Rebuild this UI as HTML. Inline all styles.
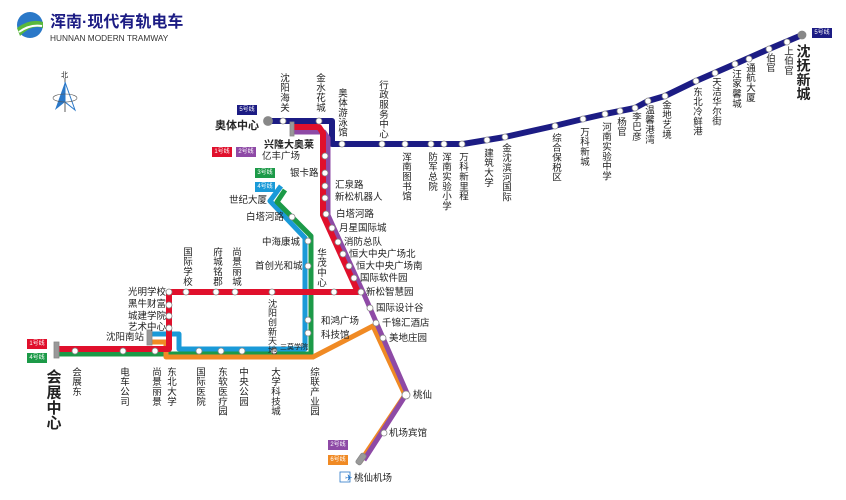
<!DOCTYPE html>
<html><head><meta charset="utf-8"><style>
body{margin:0;background:#fff;}
#c{position:relative;width:846px;height:500px;overflow:hidden;font-family:"Liberation Sans","Noto Sans CJK SC",sans-serif;color:#222;}
svg{position:absolute;left:0;top:0}
.v{position:absolute;writing-mode:vertical-rl;font-size:9.5px;line-height:10px;letter-spacing:0.3px;transform:translateX(-50%);white-space:nowrap}
.h{position:absolute;font-size:9.5px;line-height:11px;white-space:nowrap}
.b{position:absolute;font-size:6px;color:#fff;line-height:10px;height:10px;width:20px;text-align:center}
</style></head><body><div id="c">
<svg width="846" height="500">
<circle cx="30" cy="25" r="13" fill="#2a78c8"/>
<path d="M17,28 Q30,18 43,22 L43,28 Q32,24 20,36 Z" fill="#5ab83c"/>
<path d="M19,32 Q30,24 42,26" stroke="#fff" stroke-width="2" fill="none"/>
<line x1="65" y1="78" x2="65" y2="112" stroke="#333" stroke-width="0.8"/>
<polygon points="65,82 55,110 65,102" fill="#2a78c8"/><polygon points="65,82 75,110 65,102" fill="#fff" stroke="#2a78c8"/>
<ellipse cx="65" cy="98" rx="12" ry="4" fill="none" stroke="#555" stroke-width="0.6"/>
<g fill="none" stroke-linejoin="round">
<path d="M268,121 H332 V144 H463 L487,140 L505,137 L554,126 L583,119 L605,114 L635,108 L648,101 L665,96 L696,81 L735,64 L769,49 L802,35" stroke="#1c1c84" stroke-width="6"/>
<path d="M150,334 H179 V349 H305 V238 L270,201 L281,186" stroke="#1a9ad8" stroke-width="5"/>
<path d="M57,354 H311 V236 L277,202 L285,190" stroke="#1c9a48" stroke-width="5"/>
<path d="M150,342 H166 V357 H313 L373,326 L405,395 L360,462" stroke="#f08a24" stroke-width="5"/>
<path d="M293,132 H324 L328,138 V215 L363,292 L407,393 L364,460" stroke="#8e4aa6" stroke-width="5"/>
<path d="M293,127 H319 L323,133 V215 L357,290 L358,292 H169 V349 H57" stroke="#e0102c" stroke-width="6"/>
</g>
<g fill="#fff" stroke="#888" stroke-width="0.8">
<circle cx="268" cy="121" r="4.5" fill="#888"/><circle cx="802" cy="35" r="4" fill="#888"/>
<rect x="290" y="122" width="4" height="14" fill="#999"/><rect x="54" y="342" width="5" height="16" fill="#999"/>
<rect x="147" y="330" width="5" height="15" fill="#999"/>
<circle cx="283" cy="121" r="3"/><circle cx="319" cy="121" r="3"/><circle cx="342" cy="144" r="3"/><circle cx="382" cy="144" r="3"/><circle cx="405" cy="144" r="3"/><circle cx="431" cy="144" r="3"/><circle cx="444" cy="144" r="3"/><circle cx="462" cy="144" r="3"/><circle cx="487" cy="140" r="3"/><circle cx="505" cy="137" r="3"/><circle cx="555" cy="126" r="3"/><circle cx="583" cy="119" r="3"/><circle cx="605" cy="114" r="3"/><circle cx="620" cy="111" r="3"/><circle cx="635" cy="108" r="3"/><circle cx="648" cy="101" r="3"/><circle cx="665" cy="96" r="3"/><circle cx="696" cy="81" r="3"/><circle cx="715" cy="73" r="3"/><circle cx="735" cy="64" r="3"/><circle cx="749" cy="59" r="3"/><circle cx="769" cy="49" r="3"/><circle cx="787" cy="42" r="3"/>
<circle cx="169" cy="292" r="3"/><circle cx="186" cy="292" r="3"/><circle cx="216" cy="292" r="3"/><circle cx="235" cy="292" r="3"/><circle cx="272" cy="292" r="3"/><circle cx="334" cy="292" r="3"/><circle cx="169" cy="305" r="3"/><circle cx="169" cy="316" r="3"/><circle cx="169" cy="328" r="3"/>
<circle cx="75" cy="351" r="3"/><circle cx="123" cy="351" r="3"/><circle cx="155" cy="351" r="3"/><circle cx="199" cy="351" r="3"/><circle cx="221" cy="351" r="3"/><circle cx="242" cy="351" r="3"/><circle cx="274" cy="351" r="3"/>
<circle cx="308" cy="241" r="3"/><circle cx="308" cy="266" r="3"/><circle cx="308" cy="320" r="3"/><circle cx="308" cy="333" r="3"/><circle cx="292" cy="217" r="3"/>
<circle cx="325" cy="156" r="3"/><circle cx="325" cy="173" r="3"/><circle cx="325" cy="186" r="3"/><circle cx="325" cy="198" r="3"/><circle cx="326" cy="214" r="3"/><circle cx="332" cy="228" r="3"/><circle cx="338" cy="242" r="3"/><circle cx="343" cy="254" r="3"/><circle cx="349" cy="266" r="3"/><circle cx="354" cy="278" r="3"/><circle cx="361" cy="292" r="3"/><circle cx="370" cy="308" r="3"/><circle cx="376" cy="323" r="3"/><circle cx="383" cy="338" r="3"/><circle cx="406" cy="395" r="4"/><circle cx="384" cy="433" r="3"/>
<rect x="355" y="456" width="12" height="6" rx="2" fill="#999" transform="rotate(-55 361 459)"/>
<rect x="340" y="472" width="10" height="10" fill="#fff" stroke="#2a78c8"/>
</g>
<text x="345" y="481" font-size="9" fill="#2a78c8" font-family="DejaVu Sans">✈</text>
</svg>
<div class="h" style="left:50px;top:13px;font-size:16px;line-height:20px;font-weight:bold;color:#1c1c84">浑南·现代有轨电车</div>
<div class="h" style="left:50px;top:33px;font-size:8.3px;color:#333">HUNNAN MODERN TRAMWAY</div>
<div class="h" style="left:61px;top:70px;font-size:7px">北</div>
<div class="b" style="left:237px;top:105px;background:#1c1c84">5号线</div>
<div class="b" style="left:812px;top:28px;background:#1c1c84">5号线</div>
<div class="b" style="left:212px;top:147px;background:#e0102c">1号线</div>
<div class="b" style="left:236px;top:147px;background:#8e4aa6">2号线</div>
<div class="b" style="left:255px;top:168px;background:#1c9a48">3号线</div>
<div class="b" style="left:255px;top:182px;background:#1a9ad8">4号线</div>
<div class="b" style="left:27px;top:339px;background:#e0102c">1号线</div>
<div class="b" style="left:27px;top:353px;background:#1c9a48">4号线</div>
<div class="b" style="left:328px;top:440px;background:#8e4aa6">2号线</div>
<div class="b" style="left:328px;top:455px;background:#f08a24">6号线</div>
<div class="h" style="left:215px;top:121px;font-size:11px;font-weight:bold">奥体中心</div>
<div class="h" style="left:264px;top:140px;font-size:10px;font-weight:bold">兴隆大奥莱</div>
<div class="v" style="left:283px;top:73px">沈阳海关</div>
<div class="v" style="left:319px;top:73px">金水花城</div>
<div class="v" style="left:341px;top:88px">奥体游泳馆</div>
<div class="v" style="left:382px;top:80px">行政服务中心</div>
<div class="v" style="left:405px;top:152px">浑南图书馆</div>
<div class="v" style="left:431px;top:152px">防军总院</div>
<div class="v" style="left:445px;top:152px">浑南实验小学</div>
<div class="v" style="left:462px;top:152px">万科新里程</div>
<div class="v" style="left:487px;top:148px">建筑大学</div>
<div class="v" style="left:505px;top:143px">金沈滨河国际</div>
<div class="v" style="left:555px;top:133px">综合保税区</div>
<div class="v" style="left:583px;top:127px">万科新城</div>
<div class="v" style="left:605px;top:122px">河南实验中学</div>
<div class="v" style="left:620px;top:117px">杨官</div>
<div class="v" style="left:635px;top:112px">李巴彦</div>
<div class="v" style="left:648px;top:105px">温馨港湾</div>
<div class="v" style="left:665px;top:100px">金地艺境</div>
<div class="v" style="left:696px;top:87px">东北冷鲜港</div>
<div class="v" style="left:715px;top:77px">天洁华尔街</div>
<div class="v" style="left:735px;top:69px">汪家馨城</div>
<div class="v" style="left:749px;top:63px">通航大厦</div>
<div class="v" style="left:769px;top:53px">伯官</div>
<div class="v" style="left:787px;top:46px">上伯官</div>
<div class="v" style="left:803px;top:44px;font-size:14px;line-height:15px;font-weight:bold">沈抚新城</div>
<div class="h" style="left:262px;top:151px">亿丰广场</div>
<div class="h" style="left:290px;top:168px">银卡路</div>
<div class="h" style="left:335px;top:180px">汇泉路</div>
<div class="h" style="left:335px;top:192px">新松机器人</div>
<div class="h" style="left:336px;top:209px">白塔河路</div>
<div class="h" style="left:339px;top:223px">月星国际城</div>
<div class="h" style="left:344px;top:237px">消防总队</div>
<div class="h" style="left:349px;top:249px">恒大中央广场北</div>
<div class="h" style="left:356px;top:261px">恒大中央广场南</div>
<div class="h" style="left:360px;top:273px">国际软件园</div>
<div class="h" style="left:366px;top:287px">新松智慧园</div>
<div class="h" style="left:376px;top:303px">国际设计谷</div>
<div class="h" style="left:382px;top:318px">千锦汇酒店</div>
<div class="h" style="left:389px;top:333px">美地庄园</div>
<div class="h" style="left:413px;top:390px">桃仙</div>
<div class="h" style="left:389px;top:428px">机场宾馆</div>
<div class="h" style="left:354px;top:473px">桃仙机场</div>
<div class="h" style="left:229px;top:195px">世纪大厦</div>
<div class="h" style="left:246px;top:212px">白塔河路</div>
<div class="h" style="left:262px;top:237px">中海康城</div>
<div class="h" style="left:255px;top:261px">首创光和城</div>
<div class="v" style="left:320px;top:248px">华茂中心</div>
<div class="h" style="left:321px;top:316px">和鸿广场</div>
<div class="h" style="left:321px;top:330px">科技馆</div>
<div class="v" style="left:272px;top:299px;font-size:9px;line-height:8px">沈阳创新天地</div>
<div class="h" style="left:280px;top:342px;font-size:7px">三莫学院</div>
<div class="h" style="left:128px;top:287px">光明学校</div>
<div class="h" style="left:128px;top:299px">黑牛财富</div>
<div class="h" style="left:128px;top:311px">城建学院</div>
<div class="h" style="left:128px;top:322px">艺术中心</div>
<div class="h" style="left:106px;top:332px">沈阳南站</div>
<div class="v" style="left:186px;top:247px">国际学校</div>
<div class="v" style="left:216px;top:247px">府城铭郡</div>
<div class="v" style="left:235px;top:247px">尚景丽城</div>
<div class="v" style="left:75px;top:367px">会展东</div>
<div class="v" style="left:123px;top:367px">电车公司</div>
<div class="v" style="left:155px;top:367px">尚景丽景</div>
<div class="v" style="left:170px;top:367px">东北大学</div>
<div class="v" style="left:199px;top:367px">国际医院</div>
<div class="v" style="left:221px;top:367px">东软医疗园</div>
<div class="v" style="left:242px;top:367px">中央公园</div>
<div class="v" style="left:274px;top:367px">大学科技城</div>
<div class="v" style="left:313px;top:367px">综联产业园</div>
<div class="v" style="left:53px;top:369px;font-size:15px;line-height:17px;font-weight:bold">会展中心</div>
</div></body></html>
